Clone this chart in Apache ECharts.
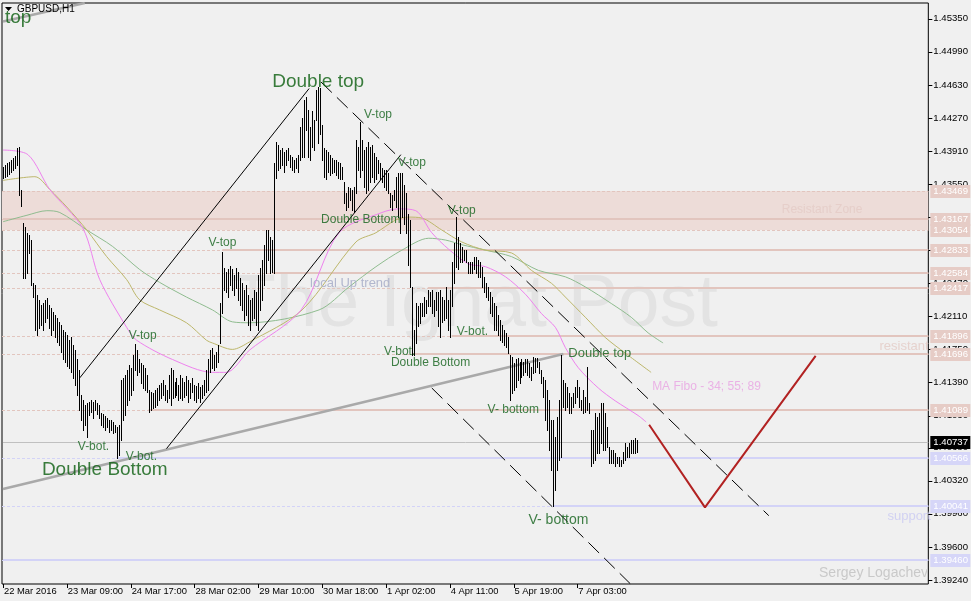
<!DOCTYPE html>
<html><head><meta charset="utf-8">
<script src="https://cdn.jsdelivr.net/npm/echarts@6/dist/echarts.min.js"></script>
<style>html,body{margin:0;padding:0;background:#f0f0f0;}#c{width:971px;height:601px;}</style>
</head><body><div id="c"></div>
<script>
// ---------- DATA ----------
const symbolTitle = 'GBPUSD,H1';
const barHigh = [
1.4374,1.4376,1.4378,1.4379,1.4381,1.4383,1.4386,1.4394,1.4395,1.4349,
1.4313,1.4308,1.4302,1.4300,1.4294,1.4247,1.4245,1.4234,1.4229,1.4223,
1.4226,1.4229,1.4231,1.4223,1.4220,1.4216,1.4212,1.4209,1.4205,1.4202,
1.4196,1.4194,1.4191,1.4185,1.4188,1.4180,1.4174,1.4164,1.4153,1.4125,
1.4120,1.4115,1.4117,1.4118,1.4120,1.4118,1.4120,1.4117,1.4115,1.4106,
1.4105,1.4102,1.4100,1.4098,1.4098,1.4096,1.4093,1.4090,1.4093,1.4142,
1.4144,1.4147,1.4153,1.4158,1.4155,1.4169,1.4181,1.4174,1.4164,1.4160,
1.4158,1.4155,1.4147,1.4131,1.4129,1.4128,1.4131,1.4133,1.4136,1.4138,
1.4142,1.4136,1.4131,1.4147,1.4155,1.4153,1.4140,1.4144,1.4136,1.4147,
1.4144,1.4140,1.4146,1.4142,1.4138,1.4144,1.4136,1.4135,1.4138,1.4134,
1.4136,1.4142,1.4153,1.4164,1.4174,1.4177,1.4169,1.4172,1.4180,1.4226,
1.4281,1.4264,1.4259,1.4262,1.4266,1.4262,1.4256,1.4264,1.4259,1.4253,
1.4247,1.4240,1.4245,1.4234,1.4229,1.4231,1.4240,1.4238,1.4256,1.4264,
1.4272,1.4289,1.4305,1.4305,1.4297,1.4294,1.4378,1.4401,1.4398,1.4392,
1.4394,1.4390,1.4392,1.4394,1.4387,1.4384,1.4381,1.4383,1.4387,1.4417,
1.4427,1.4447,1.4450,1.4436,1.4417,1.4434,1.4425,1.4457,1.4461,1.4460,
1.4419,1.4394,1.4392,1.4390,1.4387,1.4383,1.4381,1.4381,1.4379,1.4378,
1.4374,1.4357,1.4345,1.4352,1.4351,1.4349,1.4352,1.4403,1.4395,1.4423,
1.4403,1.4392,1.4395,1.4401,1.4395,1.4398,1.4389,1.4384,1.4381,1.4378,
1.4373,1.4370,1.4370,1.4367,1.4345,1.4343,1.4349,1.4363,1.4367,1.4367,
1.4367,1.4354,1.4345,1.4322,1.4316,1.4243,1.4196,1.4226,1.4222,1.4226,
1.4226,1.4232,1.4229,1.4240,1.4237,1.4240,1.4229,1.4237,1.4237,1.4240,
1.4232,1.4229,1.4243,1.4229,1.4240,1.4270,1.4291,1.4319,1.4297,1.4291,
1.4286,1.4283,1.4283,1.4270,1.4270,1.4270,1.4276,1.4276,1.4272,1.4270,
1.4265,1.4254,1.4247,1.4243,1.4237,1.4232,1.4226,1.4222,1.4212,1.4207,
1.4202,1.4196,1.4193,1.4189,1.4169,1.4167,1.4160,1.4164,1.4166,1.4161,
1.4164,1.4161,1.4164,1.4164,1.4160,1.4156,1.4167,1.4166,1.4166,1.4161,
1.4153,1.4145,1.4142,1.4131,1.4120,1.4098,1.4098,1.4080,1.4101,1.4120,
1.4169,1.4142,1.4138,1.4134,1.4128,1.4123,1.4128,1.4134,1.4142,1.4134,
1.4120,1.4131,1.4123,1.4156,1.4117,1.4087,1.4087,1.4106,1.4101,1.4106,
1.4117,1.4117,1.4106,1.4090,1.4069,1.4066,1.4066,1.4062,1.4058,1.4058,
1.4055,1.4063,1.4073,1.4069,1.4073,1.4076,1.4076,1.4078,1.4076];
const barLow = [
1.4362,1.4363,1.4364,1.4366,1.4368,1.4370,1.4373,1.4376,1.4343,1.4331,
1.4253,1.4253,1.4258,1.4280,1.4245,1.4232,1.4196,1.4191,1.4198,1.4202,
1.4196,1.4205,1.4209,1.4198,1.4191,1.4196,1.4188,1.4183,1.4180,1.4172,
1.4164,1.4161,1.4157,1.4155,1.4150,1.4144,1.4136,1.4125,1.4109,1.4098,
1.4087,1.4093,1.4080,1.4104,1.4107,1.4100,1.4109,1.4105,1.4100,1.4093,
1.4090,1.4087,1.4090,1.4085,1.4087,1.4084,1.4085,1.4057,1.4060,1.4076,
1.4098,1.4104,1.4115,1.4120,1.4125,1.4131,1.4153,1.4147,1.4150,1.4138,
1.4133,1.4131,1.4129,1.4107,1.4109,1.4111,1.4112,1.4115,1.4120,1.4122,
1.4125,1.4120,1.4118,1.4122,1.4115,1.4122,1.4123,1.4125,1.4120,1.4122,
1.4120,1.4123,1.4125,1.4118,1.4122,1.4129,1.4120,1.4118,1.4122,1.4118,
1.4122,1.4125,1.4129,1.4131,1.4150,1.4155,1.4153,1.4156,1.4161,1.4182,
1.4215,1.4240,1.4238,1.4232,1.4245,1.4240,1.4234,1.4242,1.4229,1.4223,
1.4218,1.4207,1.4212,1.4202,1.4196,1.4207,1.4209,1.4202,1.4196,1.4218,
1.4229,1.4245,1.4258,1.4272,1.4258,1.4259,1.4258,1.4362,1.4370,1.4373,
1.4376,1.4368,1.4376,1.4381,1.4374,1.4370,1.4368,1.4373,1.4368,1.4381,
1.4384,1.4384,1.4414,1.4384,1.4381,1.4395,1.4392,1.4425,1.4400,1.4409,
1.4381,1.4363,1.4360,1.4368,1.4365,1.4367,1.4368,1.4365,1.4362,1.4360,
1.4360,1.4334,1.4327,1.4330,1.4338,1.4327,1.4325,1.4345,1.4370,1.4363,
1.4370,1.4352,1.4345,1.4349,1.4357,1.4363,1.4357,1.4360,1.4367,1.4360,
1.4357,1.4352,1.4349,1.4345,1.4330,1.4327,1.4338,1.4330,1.4319,1.4302,
1.4319,1.4311,1.4302,1.4267,1.4243,1.4169,1.4169,1.4182,1.4200,1.4204,
1.4211,1.4211,1.4215,1.4222,1.4222,1.4215,1.4211,1.4218,1.4200,1.4189,
1.4205,1.4207,1.4209,1.4196,1.4189,1.4222,1.4247,1.4265,1.4262,1.4270,
1.4270,1.4272,1.4270,1.4258,1.4258,1.4258,1.4262,1.4258,1.4254,1.4254,
1.4243,1.4237,1.4232,1.4229,1.4215,1.4211,1.4196,1.4196,1.4191,1.4185,
1.4183,1.4180,1.4178,1.4171,1.4120,1.4128,1.4131,1.4134,1.4142,1.4138,
1.4145,1.4147,1.4150,1.4147,1.4145,1.4142,1.4149,1.4150,1.4156,1.4149,
1.4138,1.4123,1.4098,1.4087,1.4066,1.4044,1.4004,1.4022,1.4044,1.4055,
1.4058,1.4112,1.4109,1.4112,1.4106,1.4106,1.4112,1.4117,1.4123,1.4112,
1.4109,1.4106,1.4107,1.4109,1.4106,1.4048,1.4051,1.4055,1.4062,1.4062,
1.4073,1.4066,1.4066,1.4069,1.4051,1.4051,1.4051,1.4048,1.4051,1.4048,
1.4048,1.4051,1.4055,1.4058,1.4058,1.4062,1.4062,1.4062,1.4063];

const xTickIndex = [0,32,64,96,128,160,192,224,256,288];
const xTickLabels = ['22 Mar 2016','23 Mar 09:00','24 Mar 17:00','28 Mar 02:00','29 Mar 10:00','30 Mar 18:00','1 Apr 02:00','4 Apr 11:00','5 Apr 19:00','7 Apr 03:00'];
const yTickValues = [1.45350,1.44990,1.44630,1.44270,1.43910,1.43550,1.43190,1.42830,1.42470,1.42110,1.41750,1.41390,1.41030,1.40680,1.40320,1.39960,1.39600,1.39240];

// Moving averages (MA Fibo 34 / 55 / 89), sampled [bar, price]
const ma34 = [[0,1.4392],[12.5,1.4387],[23.5,1.4349],[40,1.4307],[48.5,1.4251],[62,1.4199],[67,1.4185],[85,1.4164],[105,1.4150],[112,1.4150],[123.5,1.4174],[149.5,1.4218],[168.5,1.4302],[190,1.4324],[198.5,1.4328],[207,1.4326],[215,1.4302],[223.5,1.4284],[233.5,1.4268],[242,1.4265],[252,1.4254],[262,1.4235],[270,1.4214],[277,1.4199],[282,1.4177],[288.5,1.4155],[298.5,1.4133],[307,1.4119],[318.5,1.4103],[322.5,1.4096]];
const ma55 = [[0,1.4359],[16,1.4363],[23.5,1.4349],[32,1.4330],[42,1.4305],[52,1.4276],[62,1.4251],[68.5,1.4229],[78.5,1.4218],[92,1.4204],[102,1.4185],[105,1.4182],[115,1.4175],[123.5,1.4183],[150,1.4218],[177,1.4292],[187,1.4302],[197,1.4316],[203.5,1.4319],[210,1.4318],[220,1.4305],[230,1.4292],[242,1.4283],[255,1.4280],[265,1.4261],[275,1.4247],[282,1.4232],[292,1.4210],[302,1.4188],[312,1.4171],[325,1.4150]];
const ma89 = [[0,1.4314],[12,1.4321],[22,1.4326],[28.5,1.4324],[42,1.4305],[55,1.4287],[68.5,1.4262],[78.5,1.4248],[92,1.4232],[105,1.4218],[115,1.4205],[123.5,1.4204],[158.5,1.4218],[173.5,1.4243],[187,1.4265],[200,1.4283],[213.5,1.4296],[222,1.4294],[230,1.4289],[242,1.4283],[255,1.4276],[268.5,1.4261],[282,1.4254],[292,1.4243],[305,1.4225],[315,1.4210],[323.5,1.4193],[331,1.4182]];

// Horizontal levels
const levelPrice     = [1.43469,1.43167,1.43054,1.42833,1.42584,1.42417,1.41896,1.41696,1.41089,1.40737,1.40566,1.40041,1.39460];
const levelKind      = ['r','r','r','r','r','r','r','r','r','bid','s','s','s'];
const levelSolidFrom = [null,0,null,110,135,213,225,205,73,0,57,276,0];
const zoneTop = 1.43469, zoneBottom = 1.43054;

// Trend lines [bar, price]
const upperChannelA = [[38.5,1.4144],[153.5,1.4459]];
const upperChannelB = [[82,1.4067],[199.5,1.4387]];
const downChannelA  = [[159.5,1.4466],[384,1.3994]];
const downChannelB  = [[215,1.4133],[314.5,1.3920]];
const longTrend     = [[0,1.4023],[281,1.4170]];
const oldTrend      = [[0,1.4532],[41,1.4552]];
const forecastPath  = [[324,1.4093],[352,1.4003],[407.5,1.4168]];

// Annotations
const annoText = ['top','Double top','V-top','V-top','V-top','V-top','V-top','V-bot.','V-bot.','Double Bottom','Double Bottom','V-bot.','Double Bottom','V-bot.','Double top','V- bottom','V- bottom','local Up trend','Resistant Zone','resistant','support','MA Fibo - 34; 55; 89'];
const annoBar  = [0,134,180,197,222,102,62,36.5,60.5,18.5,158.5,190,193.5,226.5,282.5,242,262.5,153,389.5,438.5,442.5,324.5];
const annoPrice= [1.4536,1.4466,1.4430,1.4378,1.4326,1.4291,1.4190,1.4069,1.4058,1.4044,1.4316,1.4172,1.4161,1.4194,1.4171,1.4109,1.3989,1.4247,1.4327,1.4178,1.3993,1.4134];
const annoStyle= ['big','big','sm','sm','sm','sm','sm','sm','sm','big','sm','sm','sm','sm','md','sm','lg','trend','zone','res','sup','ma'];

// ---------- STYLES ----------
const FONT = '"Liberation Sans", Arial, sans-serif';
const PINK = '#e2c5be', PINK_FILL = '#eddcd8', BLUE = '#d3d3f7', GREEN_T = '#0a5e0e', GREEN_S = '#12621a';
const styleMap = {
  big:{fontSize:19,color:GREEN_T}, sm:{fontSize:12,color:GREEN_S}, md:{fontSize:13,color:GREEN_S},
  lg:{fontSize:14,color:GREEN_S}, trend:{fontSize:13,color:'#a2a9c6'}, zone:{fontSize:12,color:'#e4cbc5'},
  res:{fontSize:13,color:'#e4cbc5'}, sup:{fontSize:13,color:'#c9c9f3'}, ma:{fontSize:12,color:'#e8a2e2'}
};

const chart = echarts.init(document.getElementById('c'));

function lineSeries(data, color, width, dash, z){
  return {type:'line', data, showSymbol:false, symbol:'none', z, clip:true, silent:true,
    lineStyle:{color, width, type: dash || 'solid'}, animation:false};
}

const option = {
  animation:false,
  backgroundColor:'#f0f0f0',
  textStyle:{fontFamily:FONT},
  grid:{left:2, right:40, top:3, bottom:17, show:true, borderColor:'#000', borderWidth:1, backgroundColor:'#f0f0f0'},
  xAxis:{type:'value', min:-0.5, max:464,
    axisLine:{show:false, onZero:false},
    axisTick:{show:false},
    axisLabel:{customValues:xTickIndex, formatter:v=>xTickLabels[xTickIndex.indexOf(v)] || '', align:'left', margin:3, padding:[0,0,0,1], color:'#000', fontSize:9.4, fontFamily:FONT},
    splitLine:{show:false}},
  yAxis:{type:'value', position:'right', min:1.39196, max:1.45521,
    axisLine:{show:false, onZero:false},
    axisTick:{show:false},
    axisLabel:{customValues:yTickValues, formatter:v=>v.toFixed(5), margin:5, color:'#000', fontSize:9.6, fontFamily:FONT},
    splitLine:{show:false}},
  graphic:[
    {type:'text', z:1, left:230, top:268, style:{text:'The Ignat Post', font:'75px '+FONT, fill:'#e3e3e3'}},
    {type:'polygon', z:20, shape:{points:[[5,7],[12,7],[8.5,11]]}, style:{fill:'#000'}},
    {type:'text', z:20, left:17, top:4, style:{text:symbolTitle, font:'10px '+FONT, fill:'#000'}},
    {type:'text', z:20, right:43, top:566, style:{text:'Sergey Logachev', font:'14px '+FONT, fill:'#c9c9c9'}}
  ],
  series:[
    {type:'custom', z:1, clip:true, silent:true, data:[[zoneTop, zoneBottom]],
      renderItem:(params, api)=>{
        const cs = params.coordSys;
        const y1 = api.coord([0, api.value(0)])[1], y2 = api.coord([0, api.value(1)])[1];
        return {type:'rect', shape:{x:cs.x, y:Math.round(y1), width:cs.width, height:Math.round(y2)-Math.round(y1)}, style:{fill:PINK_FILL}};
      }},
    {type:'custom', z:2, clip:true, silent:true, data:levelPrice.map((p,k)=>[p,k]),
      renderItem:(params, api)=>{
        const cs = params.coordSys;
        const k = api.value(1);
        const yy = Math.round(api.coord([0, api.value(0)])[1]);
        const kind = levelKind[k];
        const col = kind==='s' ? BLUE : (kind==='bid' ? '#c0c0c0' : PINK);
        const children = [];
        if (kind !== 'bid') children.push({type:'line', shape:{x1:cs.x, y1:yy+0.5, x2:cs.x+cs.width, y2:yy+0.5}, style:{stroke:col, lineWidth:1, lineDash:[3,2]}});
        const from = levelSolidFrom[k];
        if (from !== null) {
          const xs = api.coord([from, api.value(0)])[0];
          const w = kind==='bid' ? 1 : 2;
          children.push({type:'line', shape:{x1:xs, y1:yy+(w===1?0.5:0), x2:cs.x+cs.width, y2:yy+(w===1?0.5:0)}, style:{stroke:col, lineWidth:w}});
        }
        return {type:'group', children};
      }},
    Object.assign(lineSeries(ma89, '#8fbc8f', 1, null, 3), {smooth:0.3}),
    Object.assign(lineSeries(ma55, '#bdb76b', 1, null, 3), {smooth:0.3}),
    Object.assign(lineSeries(ma34, '#ee82ee', 1, null, 3), {smooth:0.3}),
    lineSeries(longTrend, '#a9a9a9', 2.5, null, 4),
    lineSeries(oldTrend, '#a9a9a9', 2.5, null, 4),
    lineSeries(upperChannelA, '#000', 1, null, 4),
    lineSeries(upperChannelB, '#000', 1, null, 4),
    Object.assign(lineSeries(downChannelA, '#000', 1, null, 4), {lineStyle:{color:'#000', width:1, type:[15,7]}}),
    Object.assign(lineSeries(downChannelB, '#000', 1, null, 4), {lineStyle:{color:'#000', width:1, type:[15,7]}}),
    lineSeries(forecastPath, '#b22222', 2, null, 4),
    {type:'custom', z:5, clip:true, silent:true, data:barHigh.map((h,i)=>[i,h,barLow[i]]),
      encode:{x:0, y:[1,2]},
      renderItem:(params, api)=>{
        const t = api.coord([api.value(0), api.value(1)]);
        const b = api.coord([api.value(0), api.value(2)]);
        const x = Math.round(t[0]) + 0.5;
        return {type:'line', shape:{x1:x, y1:Math.round(t[1]), x2:x, y2:Math.round(b[1])+1}, style:{stroke:'#000', lineWidth:1}};
      }},
    {type:'scatter', z:6, silent:true, symbolSize:0, clip:false,
      data:annoText.map((t,k)=>{
        const st = styleMap[annoStyle[k]];
        return {value:[annoBar[k], annoPrice[k]], label:{show:true, formatter:t, position:'inside', offset:[2,0], align:'left', verticalAlign:'middle', fontSize:st.fontSize, color:st.color, fontFamily:FONT}};
      })},
    // axis ticks (outside the plot)
    {type:'custom', z:9, clip:false, silent:true, data:yTickValues.map(v=>[v]),
      renderItem:(params, api)=>{
        const cs = params.coordSys;
        const yy = Math.round(api.coord([0, api.value(0)])[1]) + 0.5;
        const x0 = cs.x + cs.width;
        return {type:'line', shape:{x1:x0, y1:yy, x2:x0+4, y2:yy}, style:{stroke:'#000', lineWidth:1}};
      }},
    {type:'custom', z:9, clip:false, silent:true, data:xTickIndex.map(v=>[v]),
      renderItem:(params, api)=>{
        const cs = params.coordSys;
        const xx = Math.round(api.coord([api.value(0), 1.42])[0]) + 0.5;
        const y0 = cs.y + cs.height;
        return {type:'line', shape:{x1:xx, y1:y0, x2:xx, y2:y0+4}, style:{stroke:'#000', lineWidth:1}};
      }},
    {type:'custom', z:10, clip:false, silent:true, data:levelPrice.map((p,k)=>[p,k]),
      renderItem:(params, api)=>{
        const cs = params.coordSys;
        const k = api.value(1);
        const kind = levelKind[k];
        const yy = Math.round(api.coord([0, api.value(0)])[1]);
        const bg = kind==='s' ? '#d6d6f8' : (kind==='bid' ? '#000' : '#e6ccc6');
        const x0 = cs.x + cs.width + 2;
        return {type:'group', children:[
          {type:'rect', shape:{x:x0, y:yy-6, width:40, height:13}, style:{fill:bg}},
          {type:'text', style:{x:x0+3, y:yy+0.5, text:api.value(0).toFixed(5), fill:'#fff', font:'9.6px '+FONT, verticalAlign:'middle'}}
        ]};
      }}
  ]
};
chart.setOption(option);
</script></body></html>
